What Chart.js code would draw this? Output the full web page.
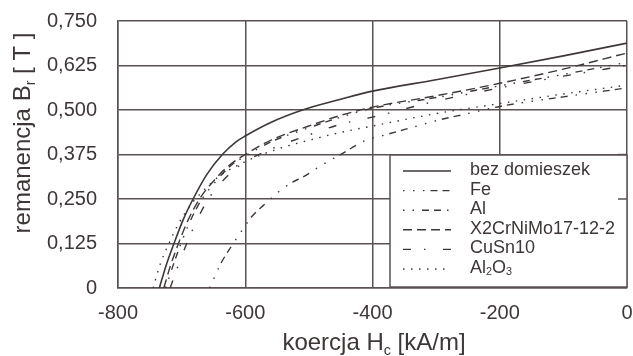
<!DOCTYPE html>
<html>
<head>
<meta charset="utf-8">
<script src="https://cdn.jsdelivr.net/npm/chart.js@4/dist/chart.umd.min.js"></script>
<style>
html,body{margin:0;padding:0;background:#fff}
#wrap{width:633px;height:356px}
</style>
</head>
<body>
<div id="wrap"><canvas id="c" width="633" height="356"></canvas></div>
<script>
'use strict';
// koercja Hc [kA/m] / remanencja Br [T]
const xTicks=[-800,-600,-400,-200,0];
const yTicks=[0,0.125,0.25,0.375,0.5,0.625,0.75];

const bezX=[-735,-725,-712,-698,-682,-660,-636,-615,-600,-560,-510,-450,-400,-300,-200,-100,0];
const bezY=[0,0.06,0.125,0.19,0.25,0.32,0.375,0.41,0.427,0.465,0.5,0.53,0.553,0.585,0.618,0.652,0.688];

const feX=[-656,-638,-619,-604,-590,-569,-550,-525,-509,-480,-451,-409,-380,-340,-300,-250,-200,-100,0];
const feY=[0,0.07,0.125,0.165,0.2,0.236,0.267,0.298,0.312,0.345,0.374,0.416,0.43,0.45,0.47,0.49,0.51,0.537,0.562];

const alX=[-725,-714,-701,-686,-668,-646,-622,-600,-560,-500,-450,-400,-300,-200,-100,0];
const alY=[0,0.06,0.125,0.19,0.25,0.3,0.345,0.37,0.41,0.45,0.48,0.505,0.535,0.568,0.6,0.634];

const x2X=[-728,-718,-705,-690,-672,-650,-625,-600,-560,-500,-450,-400,-300,-200,-100,0];
const x2Y=[0,0.06,0.125,0.19,0.25,0.3,0.345,0.375,0.415,0.455,0.485,0.508,0.54,0.575,0.615,0.66];

const cuX=[-718,-706,-692,-676,-658,-636,-612,-600,-560,-500,-450,-400,-300,-200,-100,0];
const cuY=[0,0.06,0.125,0.19,0.25,0.3,0.34,0.355,0.39,0.43,0.46,0.48,0.525,0.562,0.595,0.625];

const aoX=[-745,-733,-720,-705,-685,-665,-640,-600,-550,-500,-450,-400,-300,-200,-100,0];
const aoY=[0,0.07,0.125,0.18,0.235,0.275,0.315,0.355,0.39,0.415,0.437,0.455,0.49,0.518,0.545,0.57];

const INK='#3e3737',GRID='#5a5252',FONT='"Liberation Sans", Arial, sans-serif';
const pts=(xs,ys)=>xs.map((x,i)=>({x,y:ys[i]}));

// legend label parts: [text, subscript?]
const series=[
  {label:'bez domieszek',rich:[['bez domieszek',0]],xs:bezX,ys:bezY,dash:[]},
  {label:'Fe',rich:[['Fe',0]],xs:feX,ys:feY,dash:[1.5,8.5,1.5,8.5,1.5,6,7,5,7,8]},
  {label:'Al',rich:[['Al',0]],xs:alX,ys:alY,dash:[1.5,8,1.5,8,7,5,7,6,1.5,8]},
  {label:'X2CrNiMo17-12-2',rich:[['X2CrNiMo17-12-2',0]],xs:x2X,ys:x2Y,dash:[9,5]},
  {label:'CuSn10',rich:[['CuSn10',0]],xs:cuX,ys:cuY,dash:[8,13,1.5,17.5]},
  {label:'Al2O3',rich:[['Al',0],['2',1],['O',0],['3',1]],xs:aoX,ys:aoY,dash:[1.5,6.5]}
];

function richWidth(ctx,parts,size){
  let w=0;
  parts.forEach(([t,s])=>{ctx.font=(s?size*0.6:size)+'px '+FONT;w+=ctx.measureText(t).width;});
  return w;
}
function drawRich(ctx,parts,x,y,size){
  parts.forEach(([t,s])=>{
    ctx.font=(s?size*0.6:size)+'px '+FONT;
    ctx.fillText(t,x,s?y+size*0.2:y);
    x+=ctx.measureText(t).width;
  });
}

const decor={
  id:'decor',
  afterDraw(chart){
    const ctx=chart.ctx,ys=chart.scales.y,ca=chart.chartArea;
    ctx.save();
    ctx.fillStyle=INK;ctx.textBaseline='alphabetic';ctx.textAlign='left';
    // x title
    const xt=[['koercja H',0],['c',1],[' [kA/m]',0]];
    drawRich(ctx,xt,374-richWidth(ctx,xt,24)/2,350,24);
    // y title
    const yt=[['remanencja B',0],['r',1],[' [ T ]',0]];
    ctx.translate(30,133);ctx.rotate(-Math.PI/2);
    drawRich(ctx,yt,-richWidth(ctx,yt,24)/2,0,24);
    ctx.restore();

    // legend box
    const bx=390,by=155,bw=ca.right-390,bh=ca.bottom-1-155;
    ctx.save();
    ctx.fillStyle='#fff';ctx.fillRect(bx,by,bw,bh);
    ctx.strokeStyle=GRID;ctx.lineWidth=1.5;
    ctx.strokeRect(bx,by,bw,bh);
    [0.25,0.375].forEach(v=>{
      const py=ys.getPixelForValue(v);
      ctx.beginPath();ctx.moveTo(bx+bw-9,py);ctx.lineTo(bx+bw,py);ctx.stroke();
    });
    ctx.strokeStyle=INK;ctx.lineWidth=1.4;
    ctx.fillStyle=INK;ctx.textBaseline='middle';
    series.forEach((s,i)=>{
      const cy=170+i*19.6;
      ctx.setLineDash(s.dash);
      ctx.beginPath();ctx.moveTo(403,cy+1);ctx.lineTo(451,cy+1);ctx.stroke();
      drawRich(ctx,s.rich,470,cy,18);
    });
    ctx.restore();
  }
};

new Chart(document.getElementById('c'),{
  type:'scatter',
  data:{datasets:series.map(s=>({
    label:s.label,data:pts(s.xs,s.ys),showLine:true,
    borderColor:INK,borderWidth:s.dash.length?1.4:1.6,borderDash:s.dash,
    pointRadius:0,cubicInterpolationMode:'monotone',fill:false
  }))},
  options:{
    responsive:false,animation:false,
    layout:{padding:{left:0,right:6,top:21,bottom:0}},
    plugins:{legend:{display:false},tooltip:{enabled:false}},
    scales:{
      x:{type:'linear',min:-800,max:0,
        afterBuildTicks:sc=>{sc.ticks=xTicks.map(v=>({value:v}));},
        afterFit:sc=>{sc.height=68;sc.paddingLeft=0;sc.paddingRight=0;},
        grid:{color:GRID,lineWidth:1.5,drawTicks:false},
        border:{color:GRID,width:1.5},
        ticks:{color:INK,font:{family:FONT,size:20},padding:13,maxRotation:0,callback:v=>String(v)}},
      y:{type:'linear',min:0,max:0.75,
        afterBuildTicks:sc=>{sc.ticks=yTicks.map(v=>({value:v}));},
        afterFit:sc=>{sc.width=118;sc.paddingTop=0;sc.paddingBottom=0;},
        grid:{color:GRID,lineWidth:1.5,drawTicks:false},
        border:{color:GRID,width:1.5},
        ticks:{color:INK,font:{family:FONT,size:20},padding:21,
          callback:v=>v===0?'0':v.toFixed(3).replace('.',',')}}
    }
  },
  plugins:[decor]
});
</script>
</body>
</html>
